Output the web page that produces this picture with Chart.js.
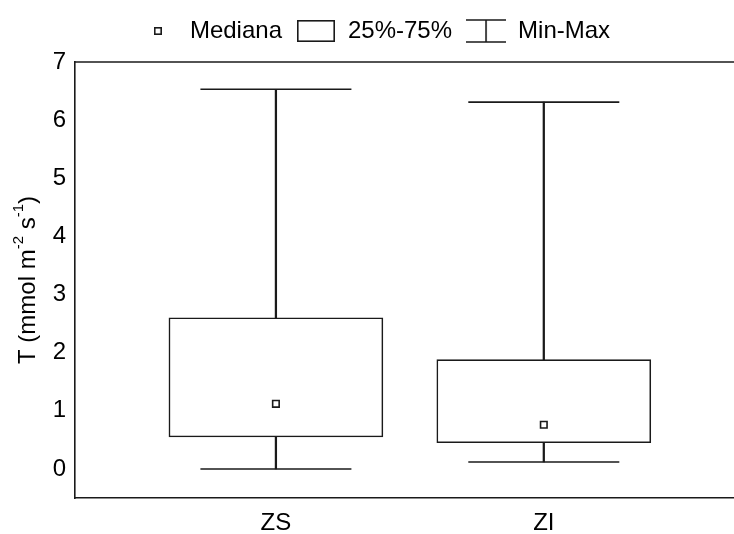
<!DOCTYPE html>
<html>
<head>
<meta charset="utf-8">
<script src="https://cdn.jsdelivr.net/npm/chart.js@4/dist/chart.umd.min.js"></script>
<style>
  html, body { margin: 0; padding: 0; background: #fff; }
  canvas { display: block; }
</style>
</head>
<body>
<canvas id="chart" width="734" height="534"></canvas>
<script>
// Transpiration summary per zone: min, quartiles, median, max
const categories = ['ZS', 'ZI'];
const minValues = [0.0, 0.12];
const q1Values = [0.55, 0.45];
const medianValues = [1.12, 0.76];
const q3Values = [2.60, 1.88];
const maxValues = [6.53, 6.31];
const yTickValues = [0, 1, 2, 3, 4, 5, 6, 7];
const legendLabels = ['Mediana', '25%-75%', 'Min-Max'];
// Axis title pieces: [text, superscript?]
const yAxisTitle = [['T (mmol m', false], ['-2', true], [' s', false], ['-1', true], [')', false]];

const INK = '#1a1a1a';
const LINE_W = 1.6;
const FONT = "'Liberation Sans', Arial, Helvetica, sans-serif";
const FONT_SIZE = 24;

// Categories sit at 1, 2, ... on a linear x scale
const xPos = categories.map((_, i) => i + 1);
const points = arr => arr.map((v, i) => ({ x: xPos[i], y: v }));
const ranges = (lo, hi) => lo.map((v, i) => ({ x: xPos[i], y: [v, hi[i]] }));

// Legend glyphs
function glyph(w, h, draw) {
  const c = document.createElement('canvas');
  c.width = w; c.height = h;
  const g = c.getContext('2d');
  g.strokeStyle = INK;
  g.lineWidth = LINE_W;
  draw(g, w, h);
  return c;
}
const medianGlyph = glyph(8, 8, (g, w, h) => {
  g.fillStyle = '#fff';
  g.fillRect(0, 0, w, h);
  g.strokeRect(0.8, 0.8, w - 1.6, h - 1.6);
});
const boxGlyph = glyph(38, 22, (g, w, h) => {
  g.strokeRect(0.8, 0.8, w - 1.6, h - 1.6);
});
const whiskerGlyph = glyph(40, 24, (g, w, h) => {
  g.beginPath();
  g.moveTo(0, 1); g.lineTo(w, 1);
  g.moveTo(w / 2, 1); g.lineTo(w / 2, h - 1);
  g.moveTo(0, h - 1); g.lineTo(w, h - 1);
  g.stroke();
});
const legendGlyphs = [medianGlyph, boxGlyph, whiskerGlyph];

// Extra room under the legend
const legendSpacing = {
  id: 'legendSpacing',
  afterInit(chart) {
    const lg = chart.legend;
    if (!lg) return;
    const fit = lg.fit;
    lg.fit = function () { fit.call(this); this.height += 9; };
  }
};

// Top edge of the frame
const frameTop = {
  id: 'frameTop',
  afterDatasetsDraw(chart) {
    const { ctx, chartArea: a } = chart;
    ctx.save();
    ctx.strokeStyle = INK;
    ctx.lineWidth = LINE_W;
    ctx.beginPath();
    ctx.moveTo(a.left - LINE_W / 2, a.top);
    ctx.lineTo(a.right, a.top);
    ctx.stroke();
    ctx.restore();
  }
};

// Rotated y-axis title with superscripts
const yTitle = {
  id: 'yTitle',
  afterDraw(chart) {
    const { ctx, chartArea: a } = chart;
    const big = FONT_SIZE + 'px ' + FONT;
    const small = Math.round(FONT_SIZE * 0.62) + 'px ' + FONT;
    ctx.save();
    let total = 0;
    const widths = yAxisTitle.map(([t, sup]) => {
      ctx.font = sup ? small : big;
      const w = ctx.measureText(t).width;
      total += w;
      return w;
    });
    ctx.translate(28, (a.top + a.bottom) / 2);
    ctx.rotate(-Math.PI / 2);
    ctx.fillStyle = '#000';
    ctx.textBaseline = 'middle';
    ctx.textAlign = 'left';
    let x = -total / 2;
    yAxisTitle.forEach(([t, sup], i) => {
      ctx.font = sup ? small : big;
      ctx.fillText(t, x, sup ? -9 : 0);
      x += widths[i];
    });
    ctx.restore();
  }
};

const tickFont = { size: FONT_SIZE, family: FONT };

// Lower "order" is painted on top: medians over boxes over whiskers
new Chart(document.getElementById('chart'), {
  type: 'bar',
  data: {
    datasets: [
      { type: 'scatter', order: 0, data: points(medianValues), pointStyle: 'rect', pointRadius: 4.6, backgroundColor: '#fff', borderColor: INK, pointBorderWidth: LINE_W },
      { type: 'scatter', order: 1, data: points(minValues), pointStyle: 'line', pointRadius: 75.5, borderColor: INK, pointBorderWidth: LINE_W },
      { type: 'scatter', order: 1, data: points(maxValues), pointStyle: 'line', pointRadius: 75.5, borderColor: INK, pointBorderWidth: LINE_W },
      { type: 'bar', order: 2, data: ranges(q1Values, q3Values), backgroundColor: '#fff', borderColor: INK, borderWidth: LINE_W, borderSkipped: false, barThickness: 214, grouped: false },
      { type: 'bar', order: 3, data: ranges(minValues, q1Values), backgroundColor: INK, borderWidth: 0, barThickness: LINE_W, grouped: false },
      { type: 'bar', order: 3, data: ranges(q3Values, maxValues), backgroundColor: INK, borderWidth: 0, barThickness: LINE_W, grouped: false }
    ]
  },
  options: {
    responsive: false,
    animation: false,
    events: [],
    layout: { autoPadding: false, padding: { left: 14, top: 5, right: 0, bottom: 0 } },
    plugins: {
      tooltip: { enabled: false },
      legend: {
        display: true,
        position: 'top',
        labels: {
          usePointStyle: true,
          pointStyleWidth: 40,
          padding: 14,
          color: '#000',
          font: { size: FONT_SIZE, family: FONT },
          generateLabels: () => legendLabels.map((text, i) => ({
            text,
            pointStyle: legendGlyphs[i],
            fillStyle: '#fff',
            strokeStyle: INK,
            lineWidth: 0,
            hidden: false,
            fontColor: '#000'
          }))
        }
      }
    },
    scales: {
      x: {
        type: 'linear',
        min: 0.25,
        max: 2.71,
        offset: false,
        grid: { display: false, drawTicks: false, offset: false },
        border: { display: true, color: INK, width: LINE_W },
        ticks: {
          padding: 11,
          color: '#000',
          font: tickFont,
          autoSkip: false,
          maxRotation: 0,
          callback: v => categories[xPos.indexOf(v)] ?? ''
        },
        afterBuildTicks: s => { s.ticks = xPos.map(v => ({ value: v })); },
        afterFit: s => { s.height = 36; }
      },
      y: {
        min: -0.5,
        max: 7,
        grid: { display: false, drawTicks: false },
        border: { display: true, color: INK, width: LINE_W },
        ticks: { padding: 9, color: '#000', font: tickFont },
        afterBuildTicks: s => { s.ticks = yTickValues.map(v => ({ value: v })); },
        afterFit: s => { s.width = 61; }
      }
    }
  },
  plugins: [legendSpacing, frameTop, yTitle]
});
</script>
</body>
</html>
